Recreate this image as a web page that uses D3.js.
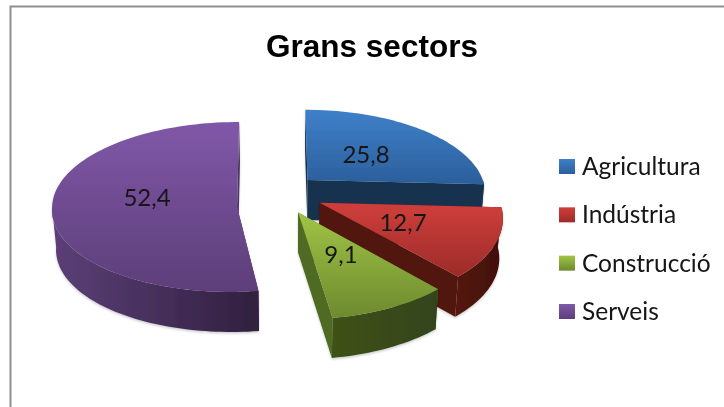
<!DOCTYPE html>
<html>
<head>
<meta charset="utf-8">
<script src="https://cdn.jsdelivr.net/npm/d3@7"></script>
<style>
html, body { margin: 0; padding: 0; background: #fff; }
svg { display: block; }
</style>
</head>
<body>
<svg id="chart" width="724" height="407"></svg>
<script>
var titleText = "Grans sectors";
var categories = ["Agricultura", "Indústria", "Construcció", "Serveis"];
var values = [25.8, 12.7, 9.1, 52.4];
var valueLabels = ["25,8", "12,7", "9,1", "52,4"];

var topColors = [["#3f80c9", "#2b5f9b"], ["#d03f3b", "#9c2b29"], ["#a0c446", "#6d8a2e"], ["#8058a8", "#5d3e79"]];
var wallColors = ["#18304f", "#51160f", "#4f6a20", "#4c3365"];
var sideColors = [["#1c3a5e", "#16304e"], ["#56170f", "#3f0f0b"], ["#3f5219", "#33431a"], ["#5c3f78", "#30203f"]];

// explode offset of every slice (in radii), k = perspective strength, sb/sf = shear back/front
var explode = [
	{ ox: 0.10, oy: -0.18, k: 0.15, r: 180, sb: 0, sf: 0 },
	{ ox: 0.164, oy: 0.09, k: 0.15, r: 178, sb: 0, sf: 0 },
	{ ox: 0.044, oy: 0.20, k: 0.15, r: 180, sb: 0, sf: 0 },
	{ ox: -0.286, oy: 0.141, k: 0, r: 185, sb: -0.011, sf: -0.035 }
];
var labelPos = [[366, 155], [403, 223], [341, 255], [147, 198]];

var cx = 290, cy = 195, tilt = 85, depth = 40, shrink = 0.983;

var svg = d3.select("#chart");
var defs = svg.append("defs");

var soft = defs.append("filter").attr("id", "soft")
	.attr("x", "-5%").attr("y", "-5%").attr("width", "110%").attr("height", "115%");
soft.append("feDropShadow").attr("dx", 0).attr("dy", 1.5).attr("stdDeviation", 1.2)
	.attr("flood-color", "#000").attr("flood-opacity", 0.2);

var textBlur = defs.append("filter").attr("id", "textBlur");
textBlur.append("feGaussianBlur").attr("stdDeviation", 0.35);

function gradient(id, stops, horizontal) {
	var g = defs.append("linearGradient").attr("id", id)
		.attr("x1", 0).attr("y1", 0)
		.attr("x2", horizontal ? 1 : 0).attr("y2", horizontal ? 0 : 1);
	g.append("stop").attr("offset", "0%").attr("stop-color", stops[0]);
	g.append("stop").attr("offset", "100%").attr("stop-color", stops[1]);
}

topColors.forEach(function(c, i) { gradient("top" + i, c, false); });
sideColors.forEach(function(c, i) { gradient("side" + i, c, true); });

// frame
svg.append("path")
	.attr("d", "M10.5 407 V6.5 H724")
	.attr("fill", "none")
	.attr("stroke", "#8f8f8f")
	.attr("stroke-width", 2);

svg.append("text")
	.attr("x", 372)
	.attr("y", 57)
	.attr("text-anchor", "middle")
	.attr("filter", "url(#textBlur)")
	.style("font-family", "'Liberation Sans', Arial, sans-serif")
	.style("font-weight", "bold")
	.style("font-size", "31.5px")
	.attr("fill", "#000")
	.text(titleText);

var pie = d3.pie().sort(null);
var arcs = pie(values);

// angle measured clockwise from 12 o'clock, t = 0 at apex and 1 on the rim
function project(e, angle, t) {
	var dy = -t * Math.cos(angle),
		shear = dy < 0 ? e.sb : e.sf,
		wx = e.ox + t * Math.sin(angle) + shear * dy,
		wy = e.oy + dy,
		p = 1 / (1 - e.k * wy);
	return [cx + e.r * wx * p, cy + tilt * wy * p];
}

function lower(pt) {
	return [cx + (pt[0] - cx) * shrink, pt[1] + depth];
}

function rim(e, a0, a1) {
	var n = Math.max(2, Math.ceil((a1 - a0) / 0.03));
	return d3.range(n + 1).map(function(i) {
		return project(e, a0 + (a1 - a0) * i / n, 1);
	});
}

var line = d3.line();

var order = [0, 3, 1, 2]; // back to front
var slices = svg.selectAll("g.slice")
	.data(order)
	.enter().append("g")
	.attr("class", "slice")
	.attr("filter", "url(#soft)");

slices.each(function(i) {
	var g = d3.select(this),
		d = arcs[i],
		e = explode[i],
		apex = project(e, 0, 0);

	// radial walls
	[d.startAngle, d.endAngle].forEach(function(a) {
		var c = project(e, a, 1);
		g.append("path")
			.attr("d", line([apex, c, lower(c), lower(apex)]) + "Z")
			.attr("fill", wallColors[i]);
	});

	// outer side, only the part of the rim that faces the viewer
	var a0 = Math.max(d.startAngle, Math.PI / 2),
		a1 = Math.min(d.endAngle, Math.PI * 1.5);
	if (a1 > a0) {
		var r = rim(e, a0, a1);
		g.append("path")
			.attr("d", line(r.concat(r.map(lower).reverse())) + "Z")
			.attr("fill", "url(#side" + i + ")");
	}

	// top face
	g.append("path")
		.attr("d", line([apex].concat(rim(e, d.startAngle, d.endAngle))) + "Z")
		.attr("fill", "url(#top" + i + ")");
});

svg.selectAll("text.value")
	.data(valueLabels)
	.enter().append("text")
	.attr("class", "value")
	.attr("x", function(d, i) { return labelPos[i][0]; })
	.attr("y", function(d, i) { return labelPos[i][1]; })
	.attr("dy", ".35em")
	.attr("text-anchor", "middle")
	.attr("filter", "url(#textBlur)")
	.style("font-family", "Lato, sans-serif")
	.style("font-size", "24px")
	.attr("fill", "#141414")
	.text(function(d) { return d; });

// legend
var legendY = d3.scalePoint().domain(categories).range([166.5, 311.5]);
var legend = svg.selectAll("g.legend")
	.data(categories)
	.enter().append("g")
	.attr("class", "legend")
	.attr("transform", function(d) { return "translate(559," + legendY(d) + ")"; });

legend.append("rect")
	.attr("y", -7.5)
	.attr("width", 16)
	.attr("height", 15)
	.attr("fill", function(d, i) { return "url(#top" + i + ")"; });

legend.append("text")
	.attr("x", 23)
	.attr("dy", ".35em")
	.attr("filter", "url(#textBlur)")
	.style("font-family", "Lato, sans-serif")
	.style("font-size", "24.5px")
	.attr("fill", "#141414")
	.text(function(d) { return d; });
</script>
</body>
</html>
